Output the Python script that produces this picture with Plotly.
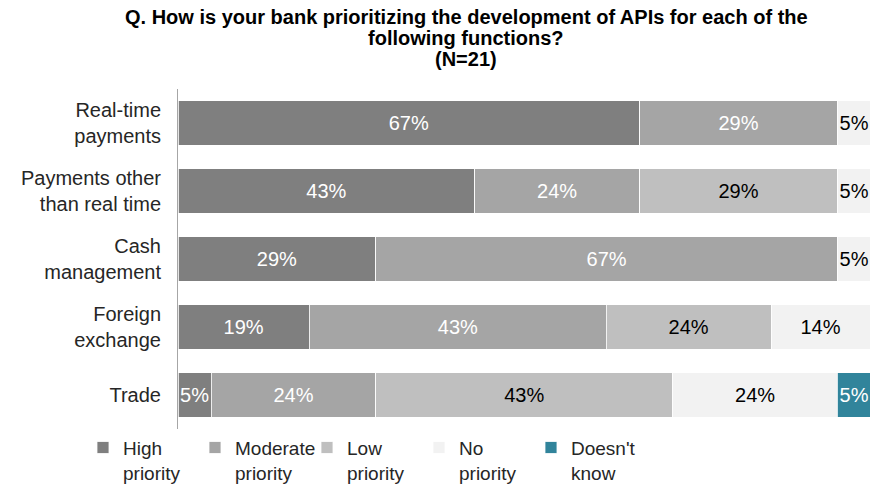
import plotly.graph_objects as go

categories = ["Real-time<br>payments", "Payments other<br>than real time", "Cash<br>management",
              "Foreign<br>exchange", "Trade"]
series_names = ["High<br>priority", "Moderate<br>priority", "Low<br>priority", "No<br>priority", "Doesn't<br>know"]
high = [66.7, 42.9, 28.6, 19.0, 4.8]
moderate = [28.6, 23.8, 66.7, 42.9, 23.8]
low = [0, 28.6, 0, 23.8, 42.9]
no_priority = [4.8, 4.8, 4.8, 14.3, 23.8]
doesnt_know = [0, 0, 0, 0, 4.8]
title_lines = ["Q. How is your bank prioritizing the development of APIs for each of the",
               "following functions?", "(N=21)"]

series_values = [high, moderate, low, no_priority, doesnt_know]
colors = ["#7f7f7f", "#a5a5a5", "#bfbfbf", "#f2f2f2", "#31849b"]
text_colors = ["white", "white", "black", "black", "white"]
FONT = "Liberation Sans, Arial, sans-serif"

fig = go.Figure()
for name, vals, col, tcol in zip(series_names, series_values, colors, text_colors):
    fig.add_trace(go.Bar(
        y=categories, x=vals, name=name, orientation="h",
        marker=dict(color=col, line=dict(color="white", width=0.8)),
        text=[f"{v:.0f}%" if v > 0 else "" for v in vals],
        textposition="inside", insidetextanchor="middle", constraintext="none",
        textangle=0,
        textfont=dict(color=tcol, size=20, family=FONT),
        hoverinfo="skip",
    ))

# title lines (paper coords relative to plot area 89..429 px)
for line, py in zip(title_lines, [17, 38, 59]):
    fig.add_annotation(text=f"<b>{line}</b>", xref="paper", yref="paper",
                       x=(466 - 178) / 692, y=(429 - py) / 340,
                       xanchor="center", yanchor="middle", showarrow=False,
                       font=dict(size=20, color="black", family=FONT))

fig.update_layout(
    barmode="stack",
    bargap=0.34,
    width=870, height=486,
    margin=dict(l=178, r=0, t=89, b=57, autoexpand=False),
    paper_bgcolor="white", plot_bgcolor="white",
    font=dict(family=FONT, size=20, color="#262626"),
    xaxis=dict(range=[0, 100], visible=False, fixedrange=True),
    yaxis=dict(autorange="reversed", showline=True, linecolor="#a6a6a6", linewidth=1,
               ticks="", ticklabelstandoff=12,
               tickfont=dict(size=20, color="#262626"), fixedrange=True),
    legend=dict(orientation="h", xref="container", x=0.0954, yref="container", y=0.118,
                xanchor="left", yanchor="top", valign="top",
                entrywidth=67, traceorder="normal",
                font=dict(size=19, color="#262626")),
    showlegend=True,
)

fig.write_html("out.html", config={"displayModeBar": False},
               post_script="document.body.style.margin='0';")
